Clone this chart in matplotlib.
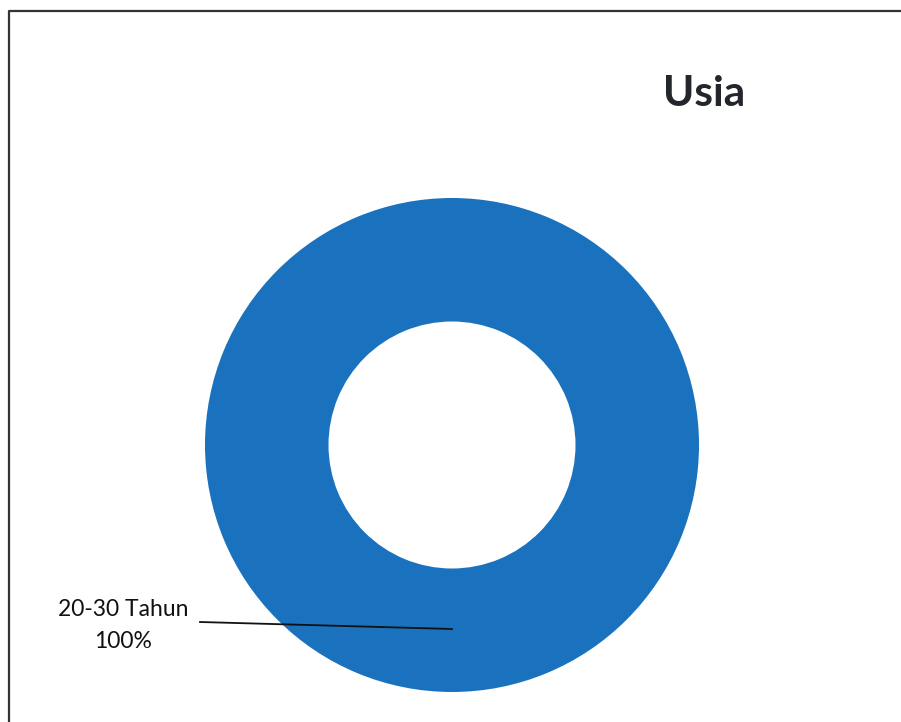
import matplotlib.pyplot as plt
from matplotlib.lines import Line2D

plt.rcParams['font.family'] = ['Lato', 'DejaVu Sans']

# data
kategori = ['20-30 Tahun']
persen = [100]
warna = ['#1a72be']
judul = 'Usia'

W, H = 901, 722
fig = plt.figure(figsize=(W / 100, H / 100), dpi=100)
fig.patch.set_facecolor('white')

def px(x, y):
    # pixel (from top-left) -> figure fraction
    return x / W, 1 - y / H

# donut: centre (452, 445), outer radius 247 px
cx, cy, r = 452, 445, 247
ax = fig.add_axes([(cx - r) / W, (H - cy - r) / H, 2 * r / W, 2 * r / H])
ax.pie(persen, colors=warna, radius=1, startangle=90, counterclock=False,
       wedgeprops=dict(width=0.5, edgecolor='none'))
ax.set_xlim(-1, 1)
ax.set_ylim(-1, 1)
ax.set_aspect('equal')
ax.axis('off')

# title
fig.text(*px(704, 106), judul, ha='center', va='baseline',
         fontsize=30.5, fontweight='bold', color='#23262d')

# label + leader line
fig.text(*px(123, 610), kategori[0], ha='center', va='center', fontsize=16.5, color='#111111')
fig.text(*px(123, 642), f'{persen[0]}%', ha='center', va='center', fontsize=16.5, color='#111111')
x0, y0 = px(200, 622)
x1, y1 = px(452, 629)
fig.add_artist(Line2D([x0, x1], [y0, y1], transform=fig.transFigure, color='#111111', lw=1.3))

# scanned page border (top and left only)
bx, by = px(9, 11)
fig.add_artist(Line2D([bx, bx, 1.0], [0.0, by, by], transform=fig.transFigure,
                      color='#333333', lw=1.6))

fig.savefig('out.png', dpi=100)
